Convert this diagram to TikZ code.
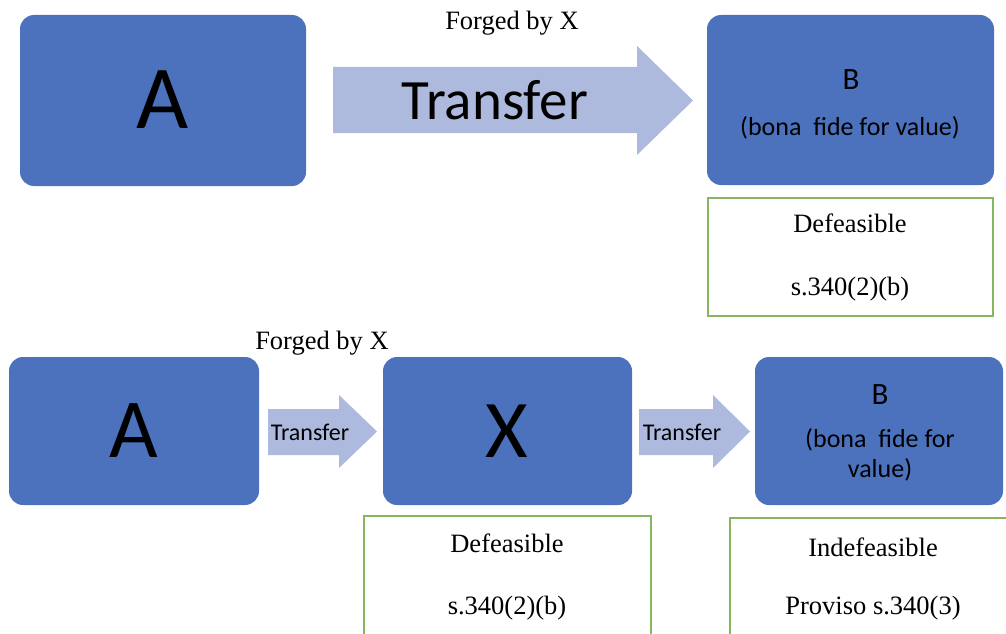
\documentclass[tikz,border=0pt]{standalone}
\usepackage{fontspec}
\setmainfont{Liberation Serif}
\newfontfamily\carlitofont{Carlito}
\definecolor{boxblue}{RGB}{76,114,190}
\definecolor{arrblue}{RGB}{173,186,222}
\definecolor{boxgreen}{RGB}{136,181,95}
\begin{document}
\begin{tikzpicture}[x=1pt,y=-1pt,
  bluebox/.style={fill=boxblue,draw=none,rounded corners=14pt},
  greenbox/.style={fill=white,draw=boxgreen,line width=2pt},
  arrowshape/.style={fill=arrblue,draw=none},
  caltext/.style={font=\carlitofont,text=black,inner sep=0pt},
  sertext/.style={font=\fontsize{26.5}{30}\selectfont,text=black,inner sep=0pt}]
\useasboundingbox (0,0) rectangle (1006,634);
% ---------- top row ----------
\fill[bluebox] (20,15) rectangle (306,186);
\node[caltext,font=\carlitofont\fontsize{90}{90}\selectfont] (tA) at (163,100) {A};
\fill[arrowshape] (333,67) -- (637,67) -- (637,46) -- (693,100.5) -- (637,155) -- (637,133) -- (333,133) -- cycle;
\node[caltext,font=\carlitofont\fontsize{57}{57}\selectfont] (tT) at (495,100) {Transfer};
\node[sertext] (tF) at (512,23) {Forged by X};
\fill[bluebox] (707,15) rectangle (994,185);
\node[caltext,font=\carlitofont\fontsize{31}{31}\selectfont] (tB) at (851,80) {B};
\node[caltext,font=\carlitofont\fontsize{26}{26}\selectfont] (tBv) at (850,128) {(bona\ \ fide for value)};
\draw[greenbox] (708,198) rectangle (993,316);
\node[sertext] (tD) at (850,223) {Defeasible};
\node[sertext] (tS) at (850,289) {s.340(2)(b)};
% ---------- bottom row ----------
\fill[bluebox] (9,357) rectangle (259,505);
\node[caltext,font=\carlitofont\fontsize{84}{84}\selectfont] (bA) at (134,431) {A};
\fill[arrowshape] (268,409) -- (339,409) -- (339,395) -- (377,431.5) -- (339,468) -- (339,455) -- (268,455) -- cycle;
\node[caltext,font=\carlitofont\fontsize{24}{24}\selectfont] (bT1) at (310,432) {Transfer};
\node[sertext] (bF) at (322,343) {Forged by X};
\fill[bluebox] (383,357) rectangle (632,505);
\node[caltext,font=\carlitofont\fontsize{82}{82}\selectfont] (bX) at (507,431) {X};
\fill[arrowshape] (639,409) -- (713,409) -- (713,395) -- (750,431.5) -- (713,468) -- (713,455) -- (639,455) -- cycle;
\node[caltext,font=\carlitofont\fontsize{24}{24}\selectfont] (bT2) at (682,432) {Transfer};
\fill[bluebox] (755,357) rectangle (1003,505);
\node[caltext,font=\carlitofont\fontsize{31}{31}\selectfont] (bB) at (880,395) {B};
\node[caltext,font=\carlitofont\fontsize{26}{26}\selectfont] (bBv1) at (880,440) {(bona\ \ fide for};
\node[caltext,font=\carlitofont\fontsize{26}{26}\selectfont] (bBv2) at (880,470) {value)};
\draw[greenbox] (364,516) rectangle (651,640);
\node[sertext] (bD) at (507,543) {Defeasible};
\node[sertext] (bS) at (507,608) {s.340(2)(b)};
\draw[greenbox] (730,518) rectangle (1012,640);
\node[sertext] (bI) at (873,547) {Indefeasible};
\node[sertext] (bP) at (873,608) {Proviso s.340(3)};
\end{tikzpicture}
\end{document}
